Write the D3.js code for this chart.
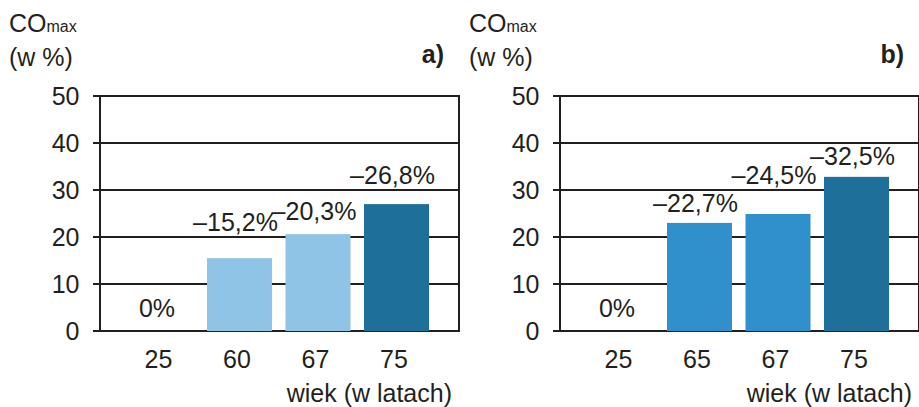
<!DOCTYPE html>
<html>
<head>
<meta charset="utf-8">
<script src="https://cdn.jsdelivr.net/npm/d3@7"></script>
<style>
  body { margin: 0; background: #fff; }
  svg { display: block; font-family: "Liberation Sans", Arial, sans-serif; }
</style>
</head>
<body>
<div id="chart"></div>
<script>
// data
var agesA = ["25", "60", "67", "75"];
var valuesA = [0, 15.5, 20.6, 27.0];
var labelsA = ["0%", "\u201315,2%", "\u201320,3%", "\u201326,8%"];

var agesB = ["25", "65", "67", "75"];
var valuesB = [0, 23.0, 24.9, 32.8];
var labelsB = ["0%", "\u201322,7%", "\u201324,5%", "\u201332,5%"];

var yTicks = [0, 10, 20, 30, 40, 50];

var width = 919, height = 407;
var ink = "#231f20";
var svg = d3.select("#chart").append("svg")
    .attr("width", width)
    .attr("height", height);

// keep a value label off the grid lines: shift it up or down, whichever is less
function labelBaseline(barTop, y)
{
    var b = barTop - 14, up = 19, down = 3, gap = 3;
    var lines = yTicks.map(function(t) { return y(t); });
    for (var k = 0; k < lines.length; k++) {
        var ly = lines[k];
        if (b - up < ly + gap && b + down > ly - gap) {
            var bUp = ly - gap - down;
            var bDown = ly + gap + up;
            if (bDown <= barTop - 5 && (bDown - b) < (b - bUp))
                b = bDown;
            else
                b = bUp;
        }
    }
    return b;
}

function panel(offsetX, ages, values, labels, colors, tag)
{
    var g = svg.append("g").attr("transform", "translate(" + offsetX + ",0)");

    var y = d3.scaleLinear().domain([0, 50]).range([331, 96]);
    var x = d3.scaleBand().domain(ages)
        .range([121.75, 435.75])
        .paddingInner(0.172)
        .paddingOuter(0.086);

    // grid lines + ticks
    g.selectAll(".grid")
        .data(yTicks)
      .enter().append("line")
        .attr("x1", 93)
        .attr("x2", 459)
        .attr("y1", function(d) { return y(d); })
        .attr("y2", function(d) { return y(d); })
        .style("stroke", ink)
        .style("stroke-width", 2);

    // bars
    g.selectAll(".bar")
        .data(values)
      .enter().append("rect")
        .attr("x", function(d, i) { return x(ages[i]); })
        .attr("y", function(d) { return y(d); })
        .attr("width", x.bandwidth())
        .attr("height", function(d) { return y(0) - y(d); })
        .style("fill", function(d, i) { return colors[i]; });

    // frame sides
    g.append("line").attr("x1", 100).attr("x2", 100).attr("y1", 95).attr("y2", 332)
        .style("stroke", ink).style("stroke-width", 2);
    g.append("line").attr("x1", 459).attr("x2", 459).attr("y1", 95).attr("y2", 332)
        .style("stroke", ink).style("stroke-width", 2);

    // y tick labels
    g.selectAll(".ylab")
        .data(yTicks)
      .enter().append("text")
        .attr("x", 79.5)
        .attr("y", function(d) { return y(d) + 8.5; })
        .attr("text-anchor", "end")
        .style("font-size", "25px")
        .style("fill", ink)
        .text(function(d) { return d; });

    // x tick labels
    g.selectAll(".xlab")
        .data(ages)
      .enter().append("text")
        .attr("x", function(d) { return x(d) + x.bandwidth() / 2 - 2.5; })
        .attr("y", 368)
        .attr("text-anchor", "middle")
        .style("font-size", "25px")
        .style("fill", ink)
        .text(function(d) { return d; });

    // value labels
    g.selectAll(".vlab")
        .data(values)
      .enter().append("text")
        .attr("x", function(d, i) { return x(ages[i]) + x.bandwidth() / 2 - 4; })
        .attr("y", function(d) { return labelBaseline(y(d), y); })
        .attr("text-anchor", "middle")
        .style("font-size", "25px")
        .style("fill", ink)
        .text(function(d, i) { return labels[i]; });

    // axis titles
    var t = g.append("text").attr("x", 9).attr("y", 32)
        .style("fill", ink);
    t.append("tspan").style("font-size", "25px").text("CO");
    t.append("tspan").style("font-size", "16px").text("max");
    g.append("text").attr("x", 9).attr("y", 66)
        .style("font-size", "25px").style("fill", ink)
        .text("(w %)");
    g.append("text").attr("x", 444).attr("y", 63)
        .attr("text-anchor", "end")
        .style("font-size", "25px").style("font-weight", "bold").style("fill", ink)
        .text(tag);
    g.append("text").attr("x", 452).attr("y", 402)
        .attr("text-anchor", "end")
        .style("font-size", "25px").style("fill", ink)
        .text("wiek (w latach)");
}

panel(0, agesA, valuesA, labelsA, ["#8fc4e6", "#8fc4e6", "#8fc4e6", "#1f6f9b"], "a)");
panel(460, agesB, valuesB, labelsB, ["#3090cc", "#3090cc", "#3090cc", "#1f6f9b"], "b)");
</script>
</body>
</html>
